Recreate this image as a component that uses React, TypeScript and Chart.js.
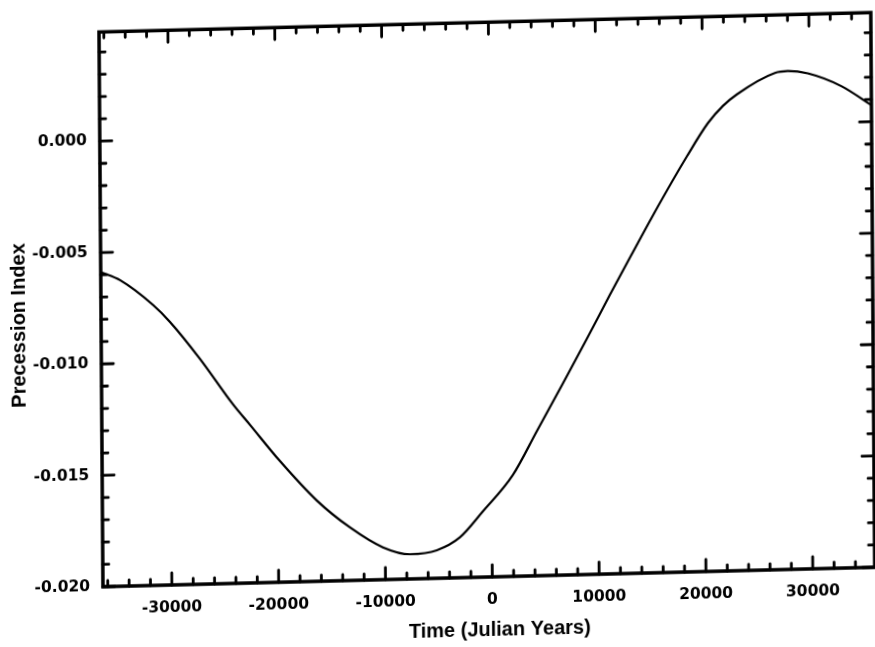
import React, { useEffect, useRef } from "react";
import { Chart, registerables } from "chart.js";

Chart.register(...registerables);

// ---- data ----
const years: number[] = [
  -36450, -34650, -31580, -30000, -27220, -24160, -22580, -19800, -16360,
  -13290, -10220, -7700, -5170, -3010, -840, 1990, 4275, 6730, 9010, 11190,
  13370, 15270, 18490, 20480, 21900, 23210, 26790, 28000, 29870, 33040, 35800,
];
const precessionIndex: number[] = [
  -0.00588, -0.00626, -0.00741, -0.00819, -0.00988, -0.01196, -0.0129,
  -0.01456, -0.01638, -0.01762, -0.01855, -0.01889, -0.01874, -0.01819,
  -0.01705, -0.01545, -0.0135, -0.0114, -0.00942, -0.00748, -0.00559,
  -0.00396, -0.00135, 0.00012, 0.00088, 0.00138, 0.0023, 0.00237, 0.00224,
  0.00162, 0.00074,
];
const xTickValues: number[] = [-30000, -20000, -10000, 0, 10000, 20000, 30000];
const yTickValues: number[] = [-0.02, -0.015, -0.01, -0.005, 0.0];
const xMin = -36450;
const xMax = 35800;
const yMin = -0.02;
const yMax = 0.0049;
const xTitle = "Time (Julian Years)";
const yTitle = "Precession Index";

const tickFont = { family: '"DejaVu Sans", sans-serif', size: 15.5, weight: "bold" as const };
const titleFont = 'bold 20px "Liberation Sans", Arial, sans-serif';

const framePlugin = {
  id: "framePlugin",
  afterDatasetsDraw(chart: any) {
    const { ctx, chartArea: a, scales } = chart;
    const xs = scales.x;
    const ys = scales.y;
    ctx.save();
    ctx.strokeStyle = "#000";
    ctx.lineWidth = 3.5;
    ctx.strokeRect(a.left, a.top, a.right - a.left, a.bottom - a.top);
    ctx.lineWidth = 2.8;
    ctx.lineCap = "round";
    // x ticks (minor every 2000, major every 10000), bottom and top, pointing in
    for (let i = -18; i <= 17; i++) {
      const v = i * 2000;
      if (v < xs.min || v > xs.max) continue;
      const px = xs.getPixelForValue(v);
      const len = i % 5 === 0 ? 12 : 6;
      ctx.beginPath();
      ctx.moveTo(px, a.bottom);
      ctx.lineTo(px, a.bottom - len);
      ctx.moveTo(px, a.top);
      ctx.lineTo(px, a.top + len);
      ctx.stroke();
    }
    // y ticks (minor every 0.001, major every 0.005), left and right
    for (let i = -20; i <= 4; i++) {
      const v = i / 1000;
      if (v < ys.min - 1e-9 || v > ys.max) continue;
      const py = ys.getPixelForValue(v);
      const len = i % 5 === 0 ? 12 : 6;
      ctx.beginPath();
      ctx.moveTo(a.left, py);
      ctx.lineTo(a.left + len, py);
      ctx.moveTo(a.right, py);
      ctx.lineTo(a.right - len, py);
      ctx.stroke();
    }
    // axis titles
    ctx.fillStyle = "#000";
    ctx.font = titleFont;
    ctx.textAlign = "center";
    ctx.textBaseline = "middle";
    ctx.fillText(xTitle, (a.left + a.right) / 2 + 10.6, a.bottom + 53);
    ctx.translate(19.8, (a.top + a.bottom) / 2 + 14);
    ctx.rotate(-Math.PI / 2);
    ctx.fillText(yTitle, 0, 0);
    ctx.restore();
  },
};

export default function App() {
  const canvasRef = useRef<HTMLCanvasElement | null>(null);

  useEffect(() => {
    const canvas = canvasRef.current;
    if (!canvas) return;
    const chart = new Chart(canvas, {
      type: "line",
      data: {
        datasets: [
          {
            data: years.map((x, i) => ({ x, y: precessionIndex[i] })),
            borderColor: "#000",
            borderWidth: 2.2,
            pointRadius: 0,
            fill: false,
            cubicInterpolationMode: "monotone",
          },
        ],
      },
      options: {
        responsive: false,
        animation: false,
        devicePixelRatio: 1,
        layout: { padding: { left: 0, top: 17.5, right: 17, bottom: 0 } },
        plugins: { legend: { display: false }, tooltip: { enabled: false } },
        scales: {
          x: {
            type: "linear",
            min: xMin,
            max: xMax,
            grid: { display: false, drawTicks: false },
            border: { display: false },
            ticks: {
              color: "#000",
              font: tickFont,
              padding: 14,
              maxRotation: 0,
              autoSkip: false,
              callback: (v: any) => String(v),
            },
            afterBuildTicks: (scale: any) => {
              scale.ticks = xTickValues.map((value) => ({ value }));
            },
            afterFit: (scale: any) => {
              scale.height = 70;
            },
          },
          y: {
            type: "linear",
            min: yMin,
            max: yMax,
            grid: { display: false, drawTicks: false },
            border: { display: false },
            ticks: {
              color: "#000",
              font: tickFont,
              padding: 13,
              autoSkip: false,
              callback: (v: any) => Number(v).toFixed(3),
            },
            afterBuildTicks: (scale: any) => {
              scale.ticks = yTickValues.map((value) => ({ value }));
            },
            afterFit: (scale: any) => {
              scale.width = 101;
            },
          },
        },
      },
      plugins: [framePlugin],
    } as any);
    return () => chart.destroy();
  }, []);

  return (
    <div
      style={{
        position: "fixed",
        left: 0,
        top: 0,
        width: 875,
        height: 647,
        overflow: "hidden",
        background: "#fff",
      }}
    >
      <div
        style={{
          width: 890,
          height: 647,
          transform: "matrix(1, -0.0252, 0.0071, 1, 0, 0)",
          transformOrigin: "487px 297.25px",
        }}
      >
        <canvas ref={canvasRef} width={890} height={647} style={{ display: "block" }} />
      </div>
    </div>
  );
}
